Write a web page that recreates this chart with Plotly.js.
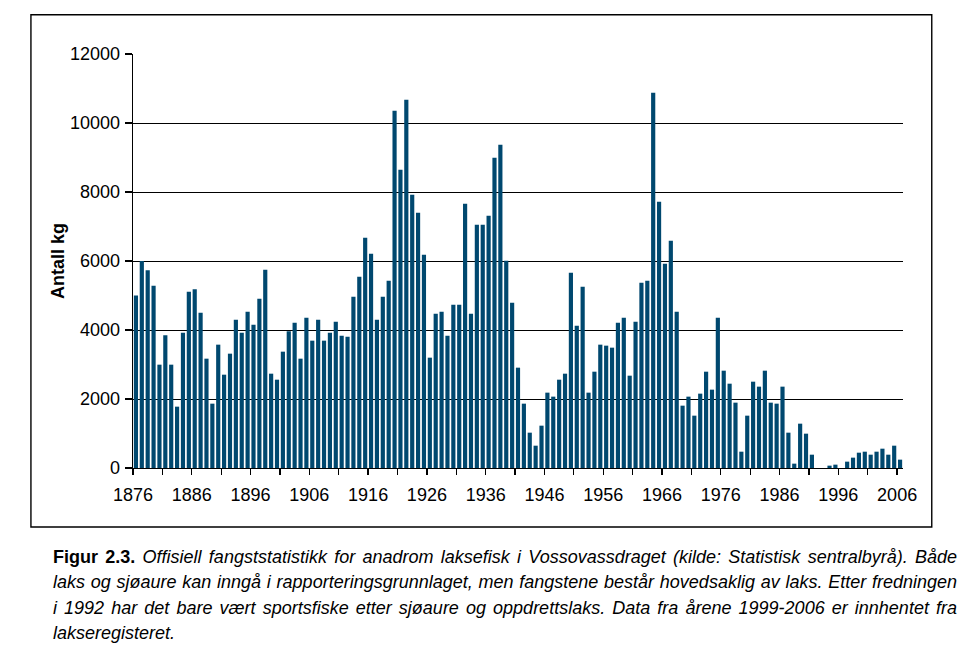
<!DOCTYPE html>
<html>
<head>
<meta charset="utf-8">
<script src="https://cdn.plot.ly/plotly-3.0.1.min.js"></script>
<style>
  html, body { margin: 0; padding: 0; background: #fff; }
  #chart { position: absolute; left: 0; top: 0; width: 972px; height: 655px; }
  #cap { position: absolute; left: 53px; top: 545px; width: 904px;
         font-family: "Liberation Sans", Arial, sans-serif; font-size: 18px;
         line-height: 25.3px; color: #000; }
  #cap .ln { white-space: nowrap; }
  #cap i { font-style: italic; }
</style>
</head>
<body>
<div id="chart"></div>
<div id="cap">
  <div class="ln j"><b>Figur 2.3.</b> <i>Offisiell fangststatistikk for anadrom laksefisk i Vossovassdraget (kilde: Statistisk sentralbyrå). Både</i></div>
  <div class="ln j"><i>laks og sjøaure kan inngå i rapporteringsgrunnlaget, men fangstene består hovedsaklig av laks. Etter fredningen</i></div>
  <div class="ln j"><i>i 1992 har det bare vært sportsfiske etter sjøaure og oppdrettslaks. Data fra årene 1999-2006 er innhentet fra</i></div>
  <div class="ln"><i>lakseregisteret.</i></div>
</div>
<script>
// ---- data ----
const firstYear = 1876;
const lastYear = 2006;
const catchKg = [
  // 1876-1885
  5000, 6000, 5730, 5285, 2995, 3845, 2995, 1778, 3923, 5111,
  // 1886-1895
  5179, 4502, 3169, 1865, 3575, 2705, 3314, 4300, 3923, 4531,
  // 1896-1905
  4155, 4908, 5749, 2734, 2560, 3372, 3961, 4213, 3169, 4358,
  // 1906-1915
  3691, 4300, 3691, 3923, 4242, 3836, 3807, 4966, 5546, 6676,
  // 1916-1925
  6213, 4300, 4966, 5430, 10358, 8647, 10677, 7923, 7401, 6184,
  // 1926-1935
  3198, 4474, 4531, 3836, 4734, 4734, 7662, 4474, 7053, 7053,
  // 1936-1945
  7314, 8995, 9372, 6010, 4792, 2908, 1865, 1024, 647, 1227,
  // 1946-1955
  2184, 2068, 2560, 2734, 5662, 4126, 5256, 2184, 2792, 3575,
  // 1956-1965
  3546, 3488, 4213, 4358, 2676, 4242, 5372, 5430, 10879, 7720,
  // 1966-1975
  5923, 6590, 4531, 1807, 2068, 1517, 2155, 2792, 2271, 4358,
  // 1976-1985
  2821, 2444, 1894, 473, 1517, 2502, 2358, 2821, 1894, 1865,
  // 1986-1995
  2358, 1024, 126, 1285, 995, 386, 0, 0, 68, 97,
  // 1996-2006
  0, 184, 300, 444, 473, 386, 473, 560, 386, 647, 242
];
const yTickVals = [0, 2000, 4000, 6000, 8000, 10000, 12000];
const yTickText = ["0", "2000", "4000", "6000", "8000", "10000", "12000"];
const xLabelYears = [1876, 1886, 1896, 1906, 1916, 1926, 1936, 1946, 1956, 1966, 1976, 1986, 1996, 2006];
const xTickStep = 5;
const yTitle = "Antall kg";

// ---- derived ----
const years = catchKg.map((_, i) => firstYear + i);
const xTickVals = [];
const xTickText = [];
for (let y = firstYear; y <= lastYear; y += xTickStep) {
  xTickVals.push(y - 0.5);                       // ticks sit between categories
  xTickText.push(xLabelYears.includes(y) ? String(y) : "");
}

// plot-area geometry (px)
const W = 972, H = 655;
const PL = 132.5, PR = 903.5, PT = 54.3, PB = 468.3;
const px2x = px => (px - PL) / (PR - PL);
const px2y = py => (PB - py) / (PB - PT);

const FONT = "Liberation Sans, Arial, sans-serif";

const trace = {
  type: "bar",
  x: years,
  y: catchKg,
  marker: { color: "#00486f", line: { width: 0 } },
  hoverinfo: "x+y"
};

const layout = {
  width: W, height: H,
  autosize: false,
  margin: { l: PL, r: W - PR, t: PT, b: H - PB, pad: 0 },
  paper_bgcolor: "#ffffff",
  plot_bgcolor: "#ffffff",
  showlegend: false,
  bargap: 0.29,
  font: { family: FONT, size: 18, color: "#000" },
  xaxis: {
    range: [firstYear - 0.5, lastYear + 0.5],
    tickmode: "array",
    tickvals: xTickVals,
    ticktext: xTickText,
    ticks: "outside", ticklen: 6, tickwidth: 1.3, tickcolor: "#000",
    showline: true, linecolor: "#000", linewidth: 1.3,
    showgrid: false, zeroline: false,
    tickangle: 0,
    tickfont: { family: FONT, size: 18, color: "#000" },
    ticklabelstandoff: 4,
    fixedrange: true
  },
  yaxis: {
    range: [0, 12000],
    tickmode: "array",
    tickvals: yTickVals,
    ticktext: yTickText,
    ticks: "outside", ticklen: 7, tickwidth: 1.3, tickcolor: "#000",
    showline: true, linecolor: "#000", linewidth: 1.3,
    showgrid: true, gridcolor: "#000", gridwidth: 1,
    zeroline: false,
    tickfont: { family: FONT, size: 18, color: "#000" },
    ticklabelstandoff: 1,
    title: { text: yTitle, font: { family: FONT, size: 18, color: "#000", weight: "bold" }, standoff: 0 },
    fixedrange: true
  },
  shapes: [{
    type: "rect", xref: "paper", yref: "paper",
    x0: px2x(30.3), x1: px2x(932.3), y0: px2y(527.3), y1: px2y(15),
    line: { color: "#000", width: 1.4 },
    fillcolor: "rgba(0,0,0,0)", layer: "below"
  }]
};

Plotly.newPlot("chart", [trace], layout, { displayModeBar: false, staticPlot: true });

// justify caption lines to full width
const capW = 904;
document.querySelectorAll("#cap .ln.j").forEach(el => {
  const span = document.createElement("span");
  while (el.firstChild) span.appendChild(el.firstChild);
  el.appendChild(span);
  const natural = span.getBoundingClientRect().width;
  const spaces = (span.textContent.trim().match(/ +/g) || []).length;
  if (spaces > 0) span.style.wordSpacing = ((capW - natural) / spaces) + "px";
});
</script>
</body>
</html>
